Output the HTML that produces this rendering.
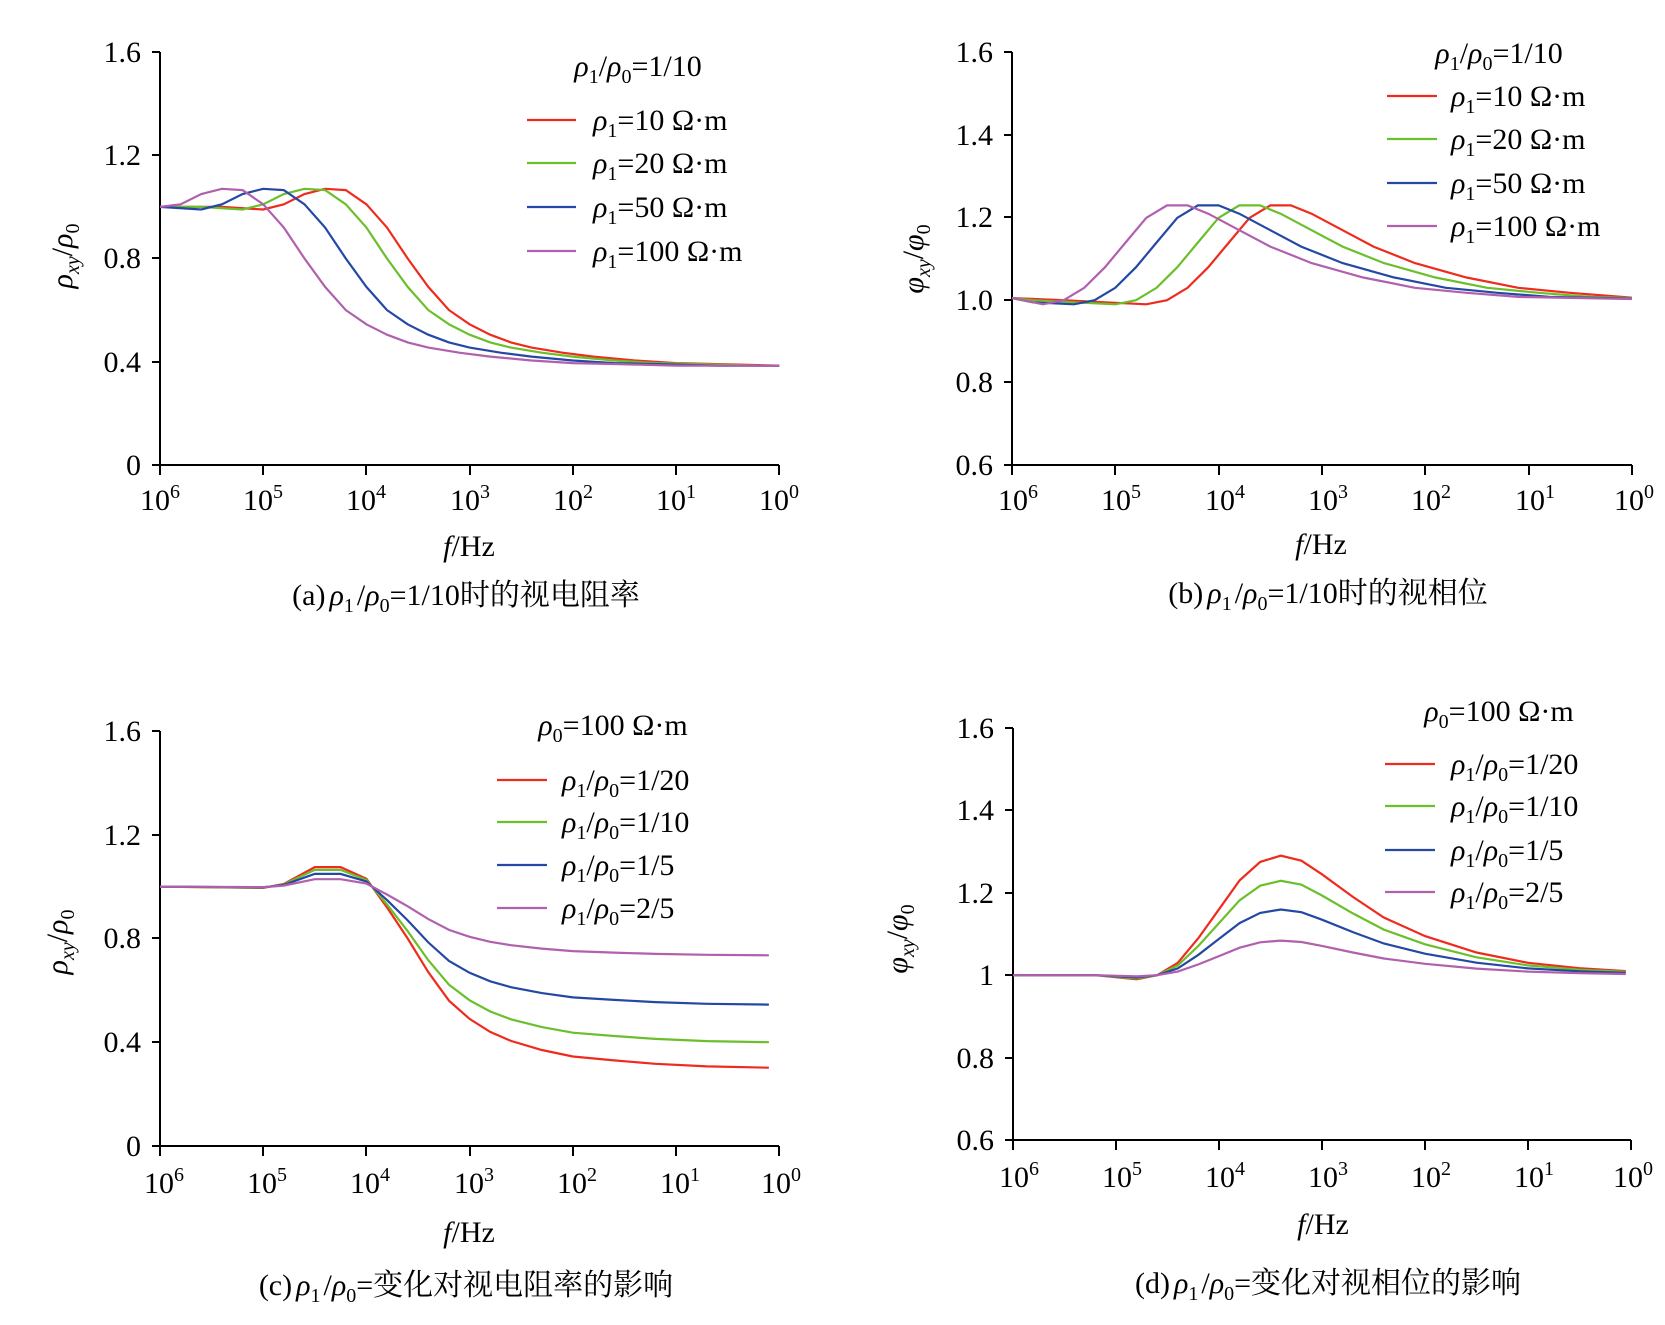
<!DOCTYPE html>
<html><head><meta charset="utf-8"><style>
html,body{margin:0;padding:0;background:#fff}
svg{display:block}
text{font-family:"Liberation Serif","Noto Serif CJK SC",serif;fill:#000}
.t{font-size:30px}
.s{font-size:20px}
.i{font-style:italic}
</style></head><body>
<svg id="s" width="1665" height="1325" viewBox="0 0 1665 1325" xmlns="http://www.w3.org/2000/svg">
<g stroke="#000" stroke-width="2" fill="none">
<path d="M160,52V465H779"/>
<path d="M152,52H160M152,155H160M152,258H160M152,362H160M152,465H160"/>
<path d="M160,465v10M263,465v10M366,465v10M470,465v10M573,465v10M676,465v10M779,465v10"/>
<path d="M1012,52V465H1632"/>
<path d="M1004,52H1012M1004,135H1012M1004,217H1012M1004,300H1012M1004,382H1012M1004,465H1012"/>
<path d="M1012,465v10M1115,465v10M1219,465v10M1322,465v10M1425,465v10M1529,465v10M1632,465v10"/>
<path d="M160,731V1146H779"/>
<path d="M152,731H160M152,835H160M152,938H160M152,1042H160M152,1146H160"/>
<path d="M160,1146v10M263,1146v10M366,1146v10M470,1146v10M573,1146v10M676,1146v10M779,1146v10"/>
<path d="M1013,728V1140H1631"/>
<path d="M1005,728H1013M1005,810H1013M1005,893H1013M1005,975H1013M1005,1058H1013M1005,1140H1013"/>
<path d="M1013,1140v10M1116,1140v10M1219,1140v10M1322,1140v10M1425,1140v10M1528,1140v10M1631,1140v10"/>
</g>
<g id="curves" fill="none" stroke-width="2.2"></g>

<g class="t" text-anchor="end">
<text x="141" y="62">1.6</text><text x="141" y="165">1.2</text><text x="141" y="268">0.8</text><text x="141" y="372">0.4</text><text x="141" y="475">0</text>
<text x="993" y="62">1.6</text><text x="993" y="145">1.4</text><text x="993" y="227">1.2</text><text x="993" y="310">1.0</text><text x="993" y="392">0.8</text><text x="993" y="475">0.6</text>
<text x="141" y="741">1.6</text><text x="141" y="845">1.2</text><text x="141" y="948">0.8</text><text x="141" y="1052">0.4</text><text x="141" y="1156">0</text>
<text x="994" y="738">1.6</text><text x="994" y="820">1.4</text><text x="994" y="903">1.2</text><text x="994" y="985">1</text><text x="994" y="1068">0.8</text><text x="994" y="1150">0.6</text>
</g>
<g class="t" text-anchor="middle">
<text x="160" y="510">10<tspan class="s" dy="-12">6</tspan></text><text x="263" y="510">10<tspan class="s" dy="-12">5</tspan></text><text x="366" y="510">10<tspan class="s" dy="-12">4</tspan></text><text x="470" y="510">10<tspan class="s" dy="-12">3</tspan></text><text x="573" y="510">10<tspan class="s" dy="-12">2</tspan></text><text x="676" y="510">10<tspan class="s" dy="-12">1</tspan></text><text x="779" y="510">10<tspan class="s" dy="-12">0</tspan></text>
<text x="1018" y="510">10<tspan class="s" dy="-12">6</tspan></text><text x="1121" y="510">10<tspan class="s" dy="-12">5</tspan></text><text x="1225" y="510">10<tspan class="s" dy="-12">4</tspan></text><text x="1328" y="510">10<tspan class="s" dy="-12">3</tspan></text><text x="1431" y="510">10<tspan class="s" dy="-12">2</tspan></text><text x="1535" y="510">10<tspan class="s" dy="-12">1</tspan></text><text x="1634" y="510">10<tspan class="s" dy="-12">0</tspan></text>
<text x="164" y="1193">10<tspan class="s" dy="-12">6</tspan></text><text x="267" y="1193">10<tspan class="s" dy="-12">5</tspan></text><text x="370" y="1193">10<tspan class="s" dy="-12">4</tspan></text><text x="474" y="1193">10<tspan class="s" dy="-12">3</tspan></text><text x="577" y="1193">10<tspan class="s" dy="-12">2</tspan></text><text x="680" y="1193">10<tspan class="s" dy="-12">1</tspan></text><text x="781" y="1193">10<tspan class="s" dy="-12">0</tspan></text>
<text x="1019" y="1187">10<tspan class="s" dy="-12">6</tspan></text><text x="1122" y="1187">10<tspan class="s" dy="-12">5</tspan></text><text x="1225" y="1187">10<tspan class="s" dy="-12">4</tspan></text><text x="1328" y="1187">10<tspan class="s" dy="-12">3</tspan></text><text x="1431" y="1187">10<tspan class="s" dy="-12">2</tspan></text><text x="1534" y="1187">10<tspan class="s" dy="-12">1</tspan></text><text x="1633" y="1187">10<tspan class="s" dy="-12">0</tspan></text>
<text x="469" y="556"><tspan class="i">f</tspan>/Hz</text>
<text x="1321" y="554"><tspan class="i">f</tspan>/Hz</text>
<text x="469" y="1242"><tspan class="i">f</tspan>/Hz</text>
<text x="1323" y="1234"><tspan class="i">f</tspan>/Hz</text>
<text x="466" y="605">(a)<tspan class="i" dx="4">ρ</tspan><tspan class="s" dy="7">1</tspan><tspan dy="-7" dx="3">/</tspan><tspan class="i">ρ</tspan><tspan class="s" dy="7">0</tspan><tspan dy="-7">=1/10时的视电阻率</tspan></text>
<text x="1328" y="603">(b)<tspan class="i" dx="4">ρ</tspan><tspan class="s" dy="7">1</tspan><tspan dy="-7" dx="3">/</tspan><tspan class="i">ρ</tspan><tspan class="s" dy="7">0</tspan><tspan dy="-7">=1/10时的视相位</tspan></text>
<text x="466" y="1295">(c)<tspan class="i" dx="4">ρ</tspan><tspan class="s" dy="7">1</tspan><tspan dy="-7" dx="3">/</tspan><tspan class="i">ρ</tspan><tspan class="s" dy="7">0</tspan><tspan dy="-7">=变化对视电阻率的影响</tspan></text>
<text x="1328" y="1293">(d)<tspan class="i" dx="4">ρ</tspan><tspan class="s" dy="7">1</tspan><tspan dy="-7" dx="3">/</tspan><tspan class="i">ρ</tspan><tspan class="s" dy="7">0</tspan><tspan dy="-7">=变化对视相位的影响</tspan></text>
<text transform="translate(72,256) rotate(-90)"><tspan class="i">ρ</tspan><tspan class="s i" dy="7">xy</tspan><tspan dy="-7">/</tspan><tspan class="i">ρ</tspan><tspan class="s" dy="7">0</tspan></text>
<text transform="translate(923,259) rotate(-90)"><tspan class="i">φ</tspan><tspan class="s i" dy="7">xy</tspan><tspan dy="-7">/</tspan><tspan class="i">φ</tspan><tspan class="s" dy="7">0</tspan></text>
<text transform="translate(67,942) rotate(-90)"><tspan class="i">ρ</tspan><tspan class="s i" dy="7">xy</tspan><tspan dy="-7">/</tspan><tspan class="i">ρ</tspan><tspan class="s" dy="7">0</tspan></text>
<text transform="translate(907,939) rotate(-90)"><tspan class="i">φ</tspan><tspan class="s i" dy="7">xy</tspan><tspan dy="-7">/</tspan><tspan class="i">φ</tspan><tspan class="s" dy="7">0</tspan></text>
<text x="638" y="76"><tspan class="i">ρ</tspan><tspan class="s" dy="7">1</tspan><tspan dy="-7">/</tspan><tspan class="i">ρ</tspan><tspan class="s" dy="7">0</tspan><tspan dy="-7">=1/10</tspan></text>
<text x="1499" y="63"><tspan class="i">ρ</tspan><tspan class="s" dy="7">1</tspan><tspan dy="-7">/</tspan><tspan class="i">ρ</tspan><tspan class="s" dy="7">0</tspan><tspan dy="-7">=1/10</tspan></text>
<text x="613" y="735"><tspan class="i">ρ</tspan><tspan class="s" dy="7">0</tspan><tspan dy="-7">=100 Ω·m</tspan></text>
<text x="1499" y="721"><tspan class="i">ρ</tspan><tspan class="s" dy="7">0</tspan><tspan dy="-7">=100 Ω·m</tspan></text>
</g>
<g stroke-width="2.2">
<path d="M527,120h49" stroke="#ee2b1d"/><path d="M527,163h49" stroke="#6abf2b"/><path d="M527,207h49" stroke="#2448a3"/><path d="M527,251h49" stroke="#b060ad"/>
<path d="M1387,96h50" stroke="#ee2b1d"/><path d="M1387,139h50" stroke="#6abf2b"/><path d="M1387,183h50" stroke="#2448a3"/><path d="M1387,226h50" stroke="#b060ad"/>
<path d="M497,780h50" stroke="#ee2b1d"/><path d="M497,822h50" stroke="#6abf2b"/><path d="M497,865h50" stroke="#2448a3"/><path d="M497,908h50" stroke="#b060ad"/>
<path d="M1385,764h50" stroke="#ee2b1d"/><path d="M1385,806h50" stroke="#6abf2b"/><path d="M1385,850h50" stroke="#2448a3"/><path d="M1385,892h50" stroke="#b060ad"/>
</g>
<g class="t">
<text x="593" y="130"><tspan class="i">ρ</tspan><tspan class="s" dy="7">1</tspan><tspan dy="-7">=10 Ω·m</tspan></text>
<text x="593" y="173"><tspan class="i">ρ</tspan><tspan class="s" dy="7">1</tspan><tspan dy="-7">=20 Ω·m</tspan></text>
<text x="593" y="217"><tspan class="i">ρ</tspan><tspan class="s" dy="7">1</tspan><tspan dy="-7">=50 Ω·m</tspan></text>
<text x="593" y="261"><tspan class="i">ρ</tspan><tspan class="s" dy="7">1</tspan><tspan dy="-7">=100 Ω·m</tspan></text>
<text x="1451" y="106"><tspan class="i">ρ</tspan><tspan class="s" dy="7">1</tspan><tspan dy="-7">=10 Ω·m</tspan></text>
<text x="1451" y="149"><tspan class="i">ρ</tspan><tspan class="s" dy="7">1</tspan><tspan dy="-7">=20 Ω·m</tspan></text>
<text x="1451" y="193"><tspan class="i">ρ</tspan><tspan class="s" dy="7">1</tspan><tspan dy="-7">=50 Ω·m</tspan></text>
<text x="1451" y="236"><tspan class="i">ρ</tspan><tspan class="s" dy="7">1</tspan><tspan dy="-7">=100 Ω·m</tspan></text>
<text x="562" y="790"><tspan class="i">ρ</tspan><tspan class="s" dy="7">1</tspan><tspan dy="-7">/</tspan><tspan class="i">ρ</tspan><tspan class="s" dy="7">0</tspan><tspan dy="-7">=1/20</tspan></text>
<text x="562" y="832"><tspan class="i">ρ</tspan><tspan class="s" dy="7">1</tspan><tspan dy="-7">/</tspan><tspan class="i">ρ</tspan><tspan class="s" dy="7">0</tspan><tspan dy="-7">=1/10</tspan></text>
<text x="562" y="875"><tspan class="i">ρ</tspan><tspan class="s" dy="7">1</tspan><tspan dy="-7">/</tspan><tspan class="i">ρ</tspan><tspan class="s" dy="7">0</tspan><tspan dy="-7">=1/5</tspan></text>
<text x="562" y="918"><tspan class="i">ρ</tspan><tspan class="s" dy="7">1</tspan><tspan dy="-7">/</tspan><tspan class="i">ρ</tspan><tspan class="s" dy="7">0</tspan><tspan dy="-7">=2/5</tspan></text>
<text x="1451" y="774"><tspan class="i">ρ</tspan><tspan class="s" dy="7">1</tspan><tspan dy="-7">/</tspan><tspan class="i">ρ</tspan><tspan class="s" dy="7">0</tspan><tspan dy="-7">=1/20</tspan></text>
<text x="1451" y="816"><tspan class="i">ρ</tspan><tspan class="s" dy="7">1</tspan><tspan dy="-7">/</tspan><tspan class="i">ρ</tspan><tspan class="s" dy="7">0</tspan><tspan dy="-7">=1/10</tspan></text>
<text x="1451" y="860"><tspan class="i">ρ</tspan><tspan class="s" dy="7">1</tspan><tspan dy="-7">/</tspan><tspan class="i">ρ</tspan><tspan class="s" dy="7">0</tspan><tspan dy="-7">=1/5</tspan></text>
<text x="1451" y="902"><tspan class="i">ρ</tspan><tspan class="s" dy="7">1</tspan><tspan dy="-7">/</tspan><tspan class="i">ρ</tspan><tspan class="s" dy="7">0</tspan><tspan dy="-7">=2/5</tspan></text>
</g>
</svg>
<script>
var C=["#ee2b1d","#6abf2b","#2448a3","#b060ad"];
var g=document.getElementById("curves"),out="";
function path(pts,x0,dx,y0,sy,v0,col){
  var d="";pts.forEach(function(p,i){d+=(i?"L":"M")+(x0+p[0]*dx).toFixed(1)+","+(y0-(p[1]-v0)*sy).toFixed(1);});
  out+='<path d="'+d+'" stroke="'+col+'"/>';
}
function shift(R,s,first,last){
  var r=[[0,first]];R.forEach(function(p){var x=p[0]+s;if(x>0&&x<6)r.push([x,p[1]]);});r.push([6,last]);return r;
}
var A=[[0,1],[0.6,1],[1.0,0.99],[1.2,1.01],[1.4,1.05],[1.6,1.07],[1.8,1.065],[2.0,1.01],[2.2,0.92],[2.4,0.8],[2.6,0.69],[2.8,0.6],[3.0,0.545],[3.2,0.505],[3.4,0.475],[3.6,0.455],[3.9,0.435],[4.2,0.42],[4.6,0.405],[5,0.395],[5.5,0.39],[6,0.385]];
[0,-0.2,-0.6,-1.0].forEach(function(s,i){path(shift(A,s,1,0.385),160,103.2,465,258.1,0,C[i]);});
var B=[[0,1.005],[0.6,1.0],[1.0,0.995],[1.4,0.99],[1.6,1.0],[1.8,1.03],[2.0,1.08],[2.2,1.14],[2.4,1.2],[2.6,1.23],[2.8,1.23],[3.0,1.21],[3.3,1.17],[3.6,1.13],[4.0,1.09],[4.5,1.055],[5,1.03],[5.5,1.018],[6,1.008]];
[-0.1,-0.4,-0.8,-1.1].forEach(function(s,i){path(shift(B,s,1.005,1.006-i*0.001),1012,103.3,465,412,0.6,C[i]);});
var Cr=[[0,1],[1,0.995],[1.2,1.01],[1.5,1.075],[1.75,1.075],[2.0,1.03],[2.2,0.92],[2.4,0.8],[2.6,0.67],[2.8,0.56],[3.0,0.49],[3.2,0.44],[3.4,0.405],[3.7,0.37],[4.0,0.345],[4.4,0.33],[4.8,0.317],[5.3,0.307],[5.9,0.302]];
[0.302,0.4,0.545,0.735].forEach(function(a,i){path(Cr.map(function(p){return [p[0],a+(p[1]-0.302)*(1-a)/0.698];}),160,103.2,1146,259.4,0,C[i]);});
var Dr=[[0,1],[0.8,1],[1.2,0.99],[1.4,1.0],[1.6,1.03],[1.8,1.09],[2.0,1.16],[2.2,1.23],[2.4,1.275],[2.6,1.29],[2.8,1.278],[3.0,1.245],[3.3,1.19],[3.6,1.14],[4.0,1.095],[4.5,1.055],[5,1.03],[5.5,1.017],[5.95,1.01]];
[1,0.79,0.55,0.29].forEach(function(k,i){path(Dr.map(function(p){return [p[0],1+(p[1]-1)*k];}),1013,103,1140,412,0.6,C[i]);});
g.innerHTML=out;
</script>
</body></html>
